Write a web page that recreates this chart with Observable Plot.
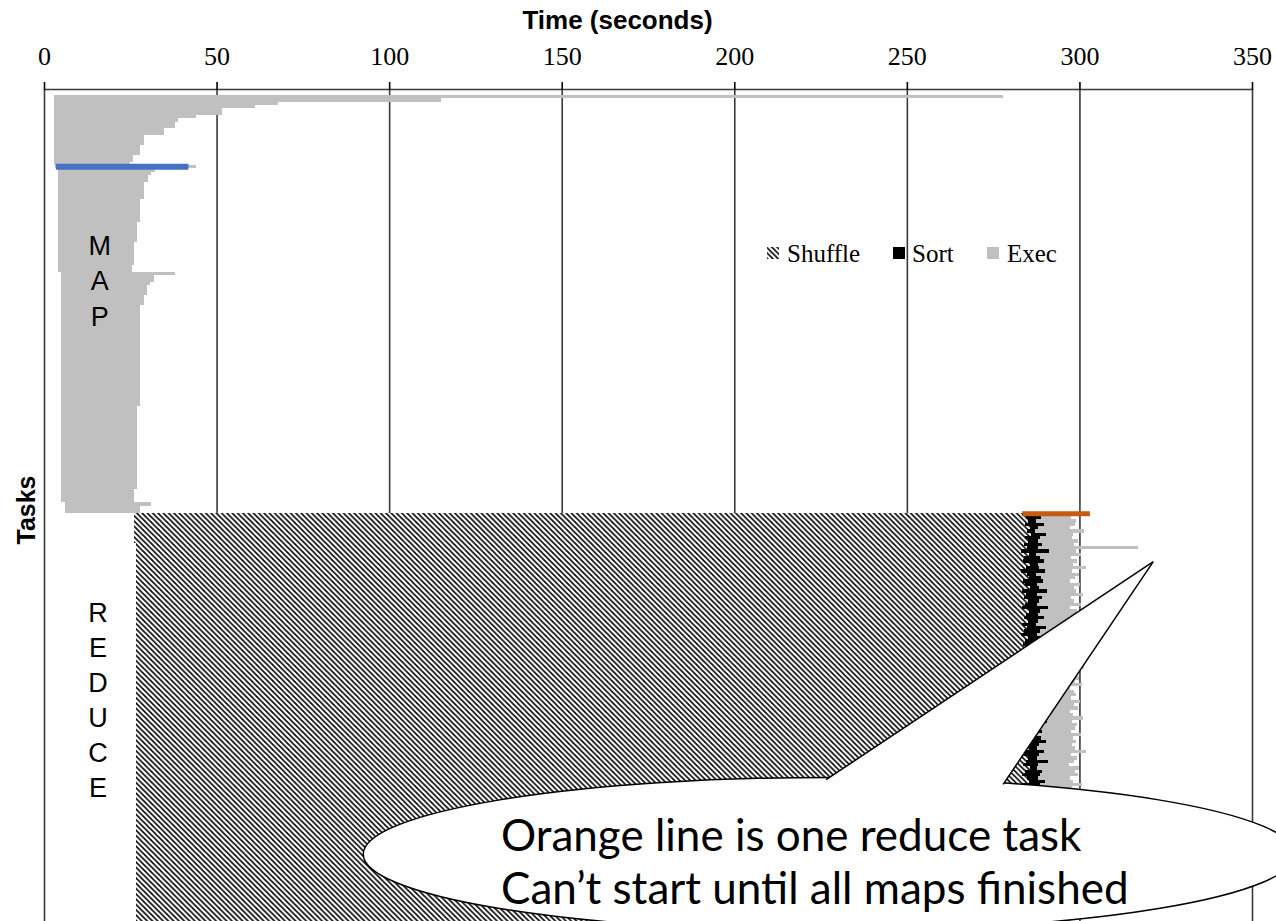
<!DOCTYPE html>
<html><head><meta charset="utf-8">
<script src="https://cdn.jsdelivr.net/npm/d3@7"></script>
<script src="https://cdn.jsdelivr.net/npm/@observablehq/plot@0.6"></script>
<style>html,body{margin:0;padding:0;background:#fff;overflow:hidden} #chart svg{display:block}</style>
</head><body><div id="chart"></div>
<script>
// ---- data ----
const xTicks = [0, 50, 100, 150, 200, 250, 300, 350];
const mapStart = [
2.9,2.9,2.9,2.9,2.9,2.9,2.9,2.9,2.9,2.9,
2.9,2.9,2.9,2.9,2.9,2.9,2.9,2.9,2.9,2.9,
2.9,3.3,4.1,4.1,4.1,4.1,4.1,4.1,4.1,4.1,
4.1,4.1,4.1,4.1,4.1,4.1,4.1,4.1,4.1,4.1,
4.1,4.1,4.1,4.1,4.1,4.1,4.1,4.1,4.1,4.1,
4.1,4.1,4.1,5.0,5.0,5.0,5.0,5.0,5.0,5.0,
5.0,5.0,5.0,5.0,5.0,5.0,5.0,5.0,5.0,5.0,
5.0,5.0,5.0,5.0,5.0,5.0,5.0,5.0,5.0,5.0,
5.0,5.0,5.0,5.0,5.0,5.0,5.0,5.0,5.0,5.0,
5.0,5.0,5.0,5.0,5.0,5.0,5.0,5.0,5.0,5.0,
5.0,5.0,5.0,5.0,5.0,5.0,5.0,5.0,5.0,5.0,
5.0,5.0,5.0,5.0,5.0,5.0,5.0,5.0,5.0,5.0,
5.0,5.0,6.0,6.0,6.0];
const mapEnd = [
278,115,67.7,61,51.7,51.7,44,38.8,37.9,37.9,
34.7,34.7,29,29,29,27.9,27.9,27.9,25.7,25.7,
24.8,44,32.1,30.9,30,30,29,29,29,29,
29,27.7,27.7,27.7,27.7,27.7,27.7,27.7,27,27,
27,27,27,27,26.1,26.1,26.1,26.1,26.1,26.1,
26.1,25.5,25.5,37.9,31.9,31.9,30.6,29.9,29.9,29.9,
28.9,28.9,28.9,27.9,27.9,27.9,27.9,27.9,27.9,27.9,
27.9,27.9,27.9,27.9,27.9,27.9,27.9,27.9,27.9,27.9,
27.9,27.9,27.9,27.9,27.9,27.9,27.9,27.9,27.9,27.9,
27.9,27.9,27.9,27.0,27.0,27.0,27.0,27.0,27.0,27.0,
27.0,27.0,27.0,27.0,27.0,27.0,27.0,27.0,27.0,27.0,
27.0,27.0,27.0,27.0,27.0,27.0,27.0,27.0,26,26,
26,26,30.9,27.7,27.7];
const reduceStart = [
26.1,26.1,26.1,26.1,26.1,26.1,26.1,26.1,26.1,26.8,
26.8,26.8,26.8,26.8,26.8,26.8,26.8,26.8,26.8,26.8,
26.8,26.8,26.8,26.8,26.8,26.8,26.8,26.8,26.8,26.8,
26.8,26.8,26.8,26.8,26.8,26.8,26.8,26.8,26.8,26.8,
26.8,26.8,26.8,26.8,26.8,26.8,26.8,26.8,26.8,26.8,
26.8,26.8,26.8,26.8,26.8,26.8,26.8,26.8,26.8,26.8,
26.8,26.8,26.8,26.8,26.8,26.8,26.8,26.8,26.8,26.8,
26.8,26.8,26.8,26.8,26.8,26.8,26.8,26.8,26.8,26.8,
26.8,26.8,26.8,26.8,26.8,26.8,26.8,26.8,26.8,26.8,
26.8,26.8,26.8,26.8,26.8,26.8,26.8,26.8,26.8,26.8,
26.8,26.8,26.8,26.8,26.8,26.8,26.8,26.8,26.8,26.8,
26.8,26.8,26.8,26.8,26.8,26.8,26.8,26.8,26.8,26.8,
26.8,26.8,26.8];
const shuffleEnd = [
283.4,284.6,285.2,284.1,285.6,284.8,285.9,284.3,285.1,283.9,
284.7,283.2,285.4,284.0,283.6,285.8,284.4,283.1,284.9,285.3,
283.7,284.2,285.7,283.3,284.5,283.8,285.0,284.1,283.4,285.5,
284.6,283.9,285.2,283.5,284.8,284.0,283.2,285.1,284.3,283.6,
285.6,284.7,283.8,284.2,285.4,283.3,284.9,283.7,285.0,284.4,
283.5,285.3,284.1,283.9,284.6,285.7,283.4,284.8,283.6,285.2,
284.0,283.3,285.5,284.5,283.8,284.2,285.1,283.5,284.7,283.9,
285.4,284.3,283.2,285.0,284.6,283.7,285.8,284.1,283.4,284.9,
285.3,283.6,284.4,283.1,285.6,284.8,283.9,284.2,285.2,283.5,
284.7,283.8,285.0,284.0,283.3,285.5,284.5,283.7,284.9,285.1,
283.4,284.3,285.7,283.9,284.6,283.2,285.3,284.1,283.8,285.0,
284.4,283.6,285.4,284.8,283.5,284.2,285.6,283.3,284.9,283.7,
284.5,285.2,284.0];
const sortEnd = [
287.6,288.9,287.4,289.8,288.1,287.2,290.4,288.6,287.9,289.3,
288.0,291.2,287.5,288.7,289.6,287.9,288.3,290.1,287.3,288.8,
289.4,287.7,288.2,290.6,287.8,289.1,288.4,287.6,290.9,288.5,
287.9,289.7,288.1,287.4,290.2,288.6,287.8,289.0,288.3,291.0,
287.7,288.9,289.5,287.6,288.2,290.3,287.9,288.7,289.2,287.5,
288.8,290.0,287.7,288.4,289.9,288.1,287.6,290.5,288.3,287.8,
289.4,288.0,290.7,287.9,288.6,289.1,287.5,288.9,290.2,288.2,
287.7,289.6,288.4,287.8,290.8,288.1,287.6,289.3,288.7,287.9,
290.1,288.5,287.4,289.8,288.2,287.9,290.4,288.6,287.7,289.0,
288.3,291.1,287.8,288.4,289.7,287.6,288.9,290.0,287.5,288.8,
289.5,287.9,288.1,290.6,287.7,289.2,288.4,287.6,290.3,288.0,
287.8,289.9,288.5,287.4,290.9,288.2,287.9,289.4,288.6,287.7,
290.2,288.3,287.8];
const execEnd = [
298.2,297.5,299.1,298.8,297.2,301.4,298.0,297.8,299.6,298.4,
317.0,298.9,300.6,297.6,299.3,298.1,302.0,297.9,299.8,298.6,
297.4,300.2,298.3,299.0,301.1,297.7,298.5,300.4,297.3,299.4,
298.7,297.1,300.9,298.2,299.7,297.8,298.9,301.6,297.5,298.4,
299.2,300.1,297.6,298.8,299.5,297.9,301.3,298.1,297.4,299.9,
298.6,300.7,297.2,298.3,299.1,297.7,300.3,298.5,299.6,297.3,
298.0,301.0,297.8,299.3,298.7,297.5,300.5,298.2,299.0,297.9,
298.8,301.8,297.6,299.4,298.4,297.1,300.0,298.6,299.7,297.4,
298.1,300.8,297.9,299.2,298.5,297.3,301.2,298.3,299.8,297.7,
298.9,300.2,297.5,299.5,298.0,297.8,300.6,298.7,299.1,297.2,
298.4,301.5,297.6,299.3,298.2,297.9,300.4,298.6,299.9,297.4,
298.8,300.1,297.7,299.6,298.3,297.5,301.0,298.1,299.2,297.8,
300.3,298.5,297.6];
const highlightMap = [{row: 21, start: 3.3, end: 41.7}];
const highlightReduce = [{row: 125, start: 283.3, end: 302.9}];
const legendItems = [
  {label: "Shuffle", fill: "url(#hatch)"},
  {label: "Sort", fill: "#000000"},
  {label: "Exec", fill: "#c0c0c0"}
];
const calloutLines = ["Orange line is one reduce task", "Can\u2019t start until all maps finished"];
// callout geometry in data units (seconds, task row)
const callout = {apex: [321.4, 139.7], baseLeft: [226.6, 205.0], baseRight: [277.9, 206.4],
  center: [227.5, 227.3], rx: 135, ry: 23};

// ---- tables ----
const mapRows = mapStart.map((s, i) => ({row: i, start: s, end: mapEnd[i]}));
const nMap = mapRows.length;
const reduceRows = reduceStart.map((s, j) => ({row: nMap + j, start: s, shuffle: shuffleEnd[j], sort: sortEnd[j], exec: execEnd[j]}));
const GRAY = "#c0c0c0";

const plot = Plot.plot({
  width: 1276, height: 921,
  marginTop: 89, marginLeft: 44, marginRight: 24, marginBottom: 0,
  x: {domain: [0, 350], axis: null},
  y: {domain: [-1.8, 247.3], reverse: true, axis: null},
  style: {fontFamily: "Liberation Serif", fontSize: "26px", background: "white", color: "black"},
  marks: [
    Plot.ruleX(xTicks, {stroke: "#3a3a3a", strokeWidth: 1.6}),
    Plot.rect(mapRows, {x1: "start", x2: "end", y1: "row", y2: d => d.row + 1, fill: GRAY, shapeRendering: "crispEdges"}),
    Plot.rect(reduceRows, {x1: "start", x2: "shuffle", y1: "row", y2: d => d.row + 1, fill: "url(#hatch)", shapeRendering: "crispEdges"}),
    Plot.rect(reduceRows, {x1: "shuffle", x2: "sort", y1: "row", y2: d => d.row + 1, fill: "black", shapeRendering: "crispEdges"}),
    Plot.rect(reduceRows, {x1: "sort", x2: "exec", y1: "row", y2: d => d.row + 1, fill: GRAY, shapeRendering: "crispEdges"}),
    Plot.link(highlightMap, {x1: "start", x2: "end", y1: d => d.row + 0.3, y2: d => d.row + 0.3, stroke: "#4472c4", strokeWidth: 6}),
    Plot.link(highlightReduce, {x1: "start", x2: "end", y1: d => d.row + 0.2, y2: d => d.row + 0.2, stroke: "#c55a11", strokeWidth: 5}),
    Plot.ruleY([-1.8], {stroke: "#3a3a3a", strokeWidth: 1.6}),
    Plot.axisX(xTicks, {anchor: "top", tickSize: 8, tickPadding: 17, fontSize: 26, fontFamily: "Liberation Serif", label: null, strokeWidth: 1.6}),
    Plot.text(["Time (seconds)"], {frameAnchor: "top", dx: -31, dy: -61, fontFamily: "Liberation Sans", fontWeight: "bold", fontSize: 26, lineAnchor: "bottom"}),
    Plot.text([{x: 16, y: 55, t: "M\nA\nP"}], {x: "x", y: "y", text: "t", lineHeight: 1.3, fontFamily: "Liberation Sans", fontSize: 27}),
    Plot.text([{x: 15.5, y: 180.4, t: "R\nE\nD\nU\nC\nE"}], {x: "x", y: "y", text: "t", lineHeight: 1.3, fontFamily: "Liberation Sans", fontSize: 27})
  ]
});
document.getElementById("chart").appendChild(plot);

const svg = d3.select(plot);
const xs = plot.scale("x"), ys = plot.scale("y");
const X = v => xs.apply(v), Y = v => ys.apply(v);

// hatch pattern
const defs = svg.insert("defs", ":first-child");
const P = 5.3;
const pat = defs.append("pattern").attr("id", "hatch").attr("patternUnits", "userSpaceOnUse")
  .attr("width", P).attr("height", P);
pat.append("rect").attr("width", P).attr("height", P).attr("fill", "white");
pat.append("path").attr("d", `M0,0L${P},${P}M${-P},0L${P},${2*P}M0,${-P}L${2*P},${P}`)
  .attr("stroke", "black").attr("stroke-width", 1.6);

// y-axis title
svg.append("text").attr("transform", "translate(35,510) rotate(-90)").attr("text-anchor", "middle")
  .attr("font-family", "Liberation Sans").attr("font-weight", "bold").attr("font-size", 25).text("Tasks");

// legend (inside plot area)
const lg = svg.append("g").attr("font-family", "Liberation Serif").attr("font-size", 25).attr("text-anchor", "start");
const swX = [767, 893, 987], txX = [787, 912, 1007];
legendItems.forEach((d, i) => {
  lg.append("rect").attr("x", swX[i]).attr("y", 247).attr("width", 12).attr("height", 12).attr("fill", d.fill);
  lg.append("text").attr("x", txX[i]).attr("y", 262).text(d.label);
});

// callout bubble
const g = svg.append("g").attr("text-anchor", "start");
const cx = X(callout.center[0]), cy = Y(callout.center[1]);
const rx = X(callout.center[0] + callout.rx) - cx, ry = Y(callout.center[1] + callout.ry) - cy;
g.append("ellipse").attr("cx", cx).attr("cy", cy).attr("rx", rx).attr("ry", ry)
  .attr("fill", "white").attr("stroke", "black").attr("stroke-width", 1.5);
const A = [X(callout.apex[0]), Y(callout.apex[1])];
const L = [X(callout.baseLeft[0]), Y(callout.baseLeft[1])];
const R = [X(callout.baseRight[0]), Y(callout.baseRight[1])];
const M = [(L[0] + R[0]) / 2, (L[1] + R[1]) / 2 + 14];
g.append("polygon").attr("points", [L, A, R, M].map(p => p.join(",")).join(" ")).attr("fill", "white");
g.append("path").attr("d", `M${L}L${A}L${R}`).attr("fill", "none").attr("stroke", "black").attr("stroke-width", 1.5);
calloutLines.forEach((t, i) => {
  g.append("text").attr("x", 501).attr("y", 851 + i * 53).attr("font-family", "Lato").attr("font-size", 44).text(t);
});
</script></body></html>
